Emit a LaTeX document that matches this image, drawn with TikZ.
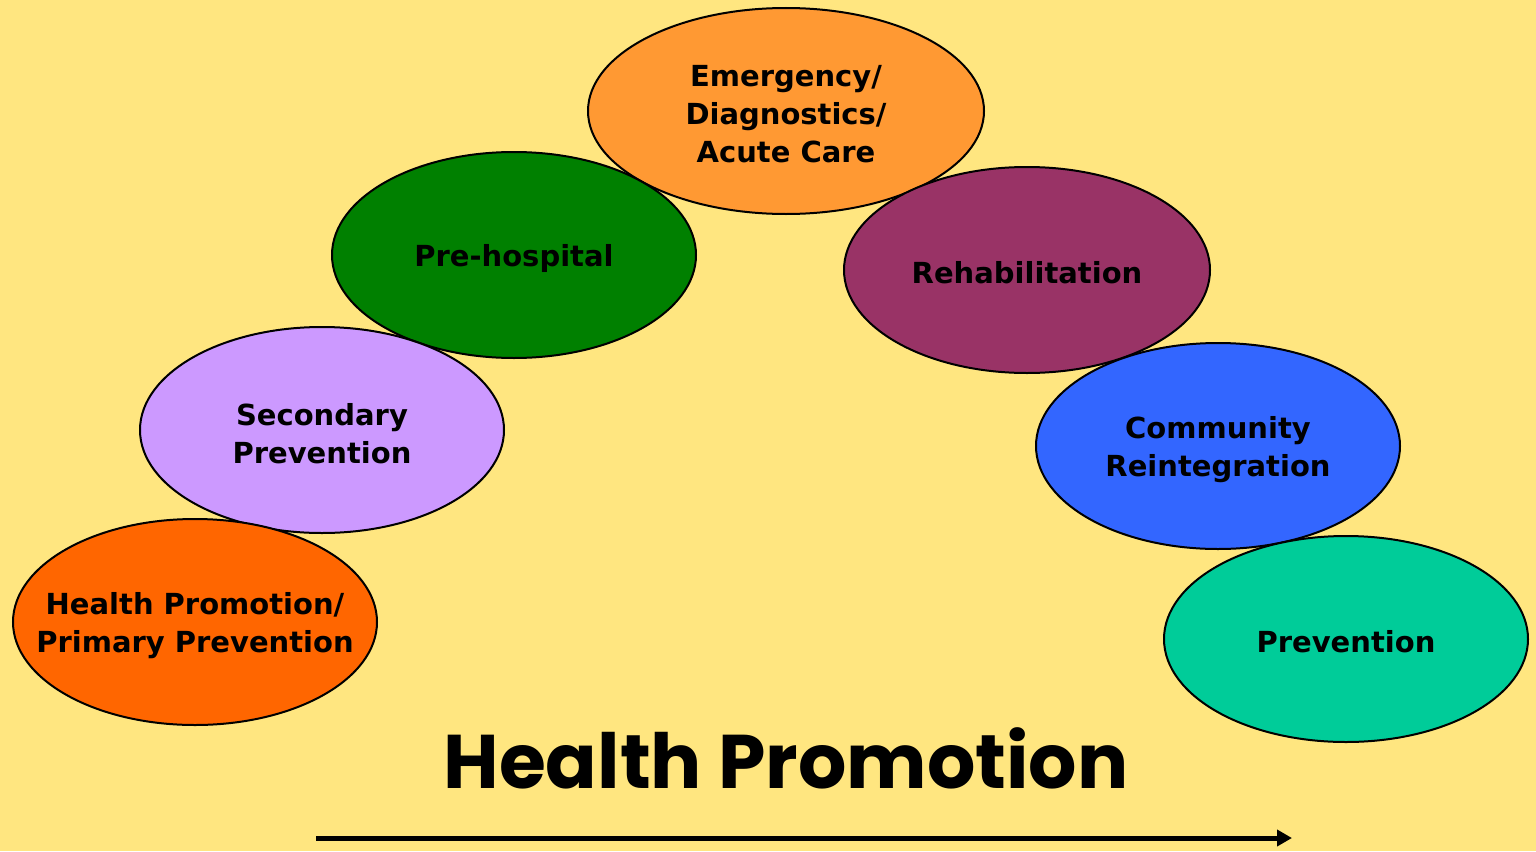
\documentclass[tikz,border=0pt]{standalone}
\usepackage{fontspec}
\setmainfont{DejaVu Sans}
\newfontfamily\bigfont{Poppins}
\usetikzlibrary{arrows.meta}
\definecolor{bg}{RGB}{255,230,128}
\definecolor{cHP}{RGB}{255,102,0}
\definecolor{cSP}{RGB}{204,153,255}
\definecolor{cPH}{RGB}{0,128,0}
\definecolor{cEM}{RGB}{255,153,51}
\definecolor{cRE}{RGB}{153,51,102}
\definecolor{cCR}{RGB}{51,102,255}
\definecolor{cPR}{RGB}{0,204,153}
\begin{document}
\begin{tikzpicture}[x=1pt,y=-1pt,
  blob/.style={draw=black,line width=2pt},
  lbl/.style={font=\fontsize{29}{38}\selectfont\bfseries,align=center,text=black,inner sep=0pt}]
\fill[bg] (0,0) rectangle (1536,851);
\useasboundingbox (0,0) rectangle (1536,851);
% ellipses in stacking order
\filldraw[blob,fill=cEM] (786,111) ellipse [x radius=198,y radius=103];
\filldraw[blob,fill=cPH] (514,255) ellipse [x radius=182,y radius=103];
\filldraw[blob,fill=cSP] (322,430) ellipse [x radius=182,y radius=103];
\filldraw[blob,fill=cHP] (195,622) ellipse [x radius=182,y radius=103];
\filldraw[blob,fill=cRE] (1027,270) ellipse [x radius=183,y radius=103];
\filldraw[blob,fill=cCR] (1218,446) ellipse [x radius=182,y radius=103];
\filldraw[blob,fill=cPR] (1346,639) ellipse [x radius=182,y radius=103];
% labels
\node[lbl] (em) at (786,114) {Emergency/\\Diagnostics/\\Acute Care};
\node[lbl] (ph) at (514,258) {Pre-hospital};
\node[lbl] (sp) at (322,434) {Secondary\\Prevention};
\node[lbl] (hp) at (195,626) {Health Promotion/\\Primary Prevention};
\node[lbl] (re) at (1027,273) {Rehabilitation};
\node[lbl] (cr) at (1218,450) {Community\\Reintegration};
\node[lbl] (pr) at (1346,642) {Prevention};
% title
\node[inner sep=0pt,font=\bigfont\fontsize{76}{86}\selectfont\bfseries] (title) at (786,758) {Health Promotion};
% arrow
\coordinate (a0) at (316,838);
\coordinate (a1) at (1292,838);
\draw[line width=5pt,-{Triangle[length=15pt,width=16pt]}] (a0) -- (a1);
\end{tikzpicture}
\end{document}
